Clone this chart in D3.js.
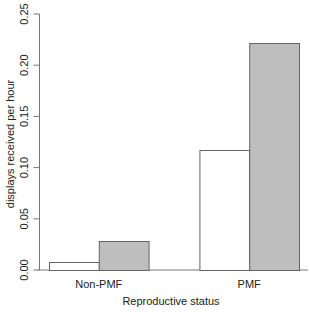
<!DOCTYPE html>
<html><head><meta charset="utf-8">
<script src="https://cdn.jsdelivr.net/npm/d3@7"></script>
<style>body{margin:0;background:#fff}svg{display:block}</style>
</head><body>
<script>
const categories = ["Non-PMF", "PMF"];
const series1 = [0.008, 0.117];   // white bars
const series2 = [0.028, 0.222];   // gray bars
const yTicks = [0, 0.05, 0.10, 0.15, 0.20, 0.25];
const yTickLabels = ["0.00", "0.05", "0.10", "0.15", "0.20", "0.25"];
const seriesColors = ["#ffffff", "#bebebe"];

const W = 310, H = 312;
const svg = d3.select("body").append("svg").attr("width", W).attr("height", H)
  .style("font-family", "Liberation Sans, Arial, sans-serif");

const y = d3.scaleLinear().domain([0, 0.25]).range([270, 14]);
const x0 = d3.scaleBand().domain(categories).range([49, 299]).paddingInner(0.338).paddingOuter(0);
const x1 = d3.scaleBand().domain([0, 1]).range([0, x0.bandwidth()]);

// baseline
svg.append("line").attr("x1", 38).attr("x2", 308).attr("y1", y(0)).attr("y2", y(0))
  .attr("stroke", "#777").attr("stroke-width", 1);

const data = categories.map((c, i) => ({c, v: [series1[i], series2[i]]}));
const g = svg.append("g");
data.forEach(d => {
  d.v.forEach((v, j) => {
    g.append("rect")
      .attr("x", x0(d.c) + x1(j) + 0.5)
      .attr("y", Math.round(y(v)) + 0.5)
      .attr("width", x1.bandwidth())
      .attr("height", y(0) - Math.round(y(v)))
      .attr("fill", seriesColors[j])
      .attr("stroke", "#666").attr("stroke-width", 1);
  });
});

// y axis
const yAxis = svg.append("g").attr("transform", "translate(39.5,0)");
yAxis.append("line").attr("y1", y(0)).attr("y2", y(0.25)).attr("stroke", "#777");
yTicks.forEach((t, i) => {
  yAxis.append("line").attr("x1", -6).attr("x2", 0).attr("y1", y(t)).attr("y2", y(t)).attr("stroke", "#777");
  yAxis.append("text").attr("transform", `translate(-12,${y(t)}) rotate(-90)`)
    .attr("text-anchor", "middle").attr("font-size", 11).attr("fill", "#222")
    .text(yTickLabels[i]);
});

// category labels
categories.forEach(c => {
  svg.append("text").attr("x", x0(c) + x0.bandwidth() / 2).attr("y", 288)
    .attr("text-anchor", "middle").attr("font-size", 11).attr("fill", "#222").text(c);
});

svg.append("text").attr("x", 171).attr("y", 305).attr("text-anchor", "middle")
  .attr("font-size", 11).attr("fill", "#222").text("Reproductive status");
svg.append("text").attr("transform", `translate(14,144) rotate(-90)`).attr("text-anchor", "middle")
  .attr("font-size", 11).attr("fill", "#222").text("displays received per hour");
</script>
</body></html>
